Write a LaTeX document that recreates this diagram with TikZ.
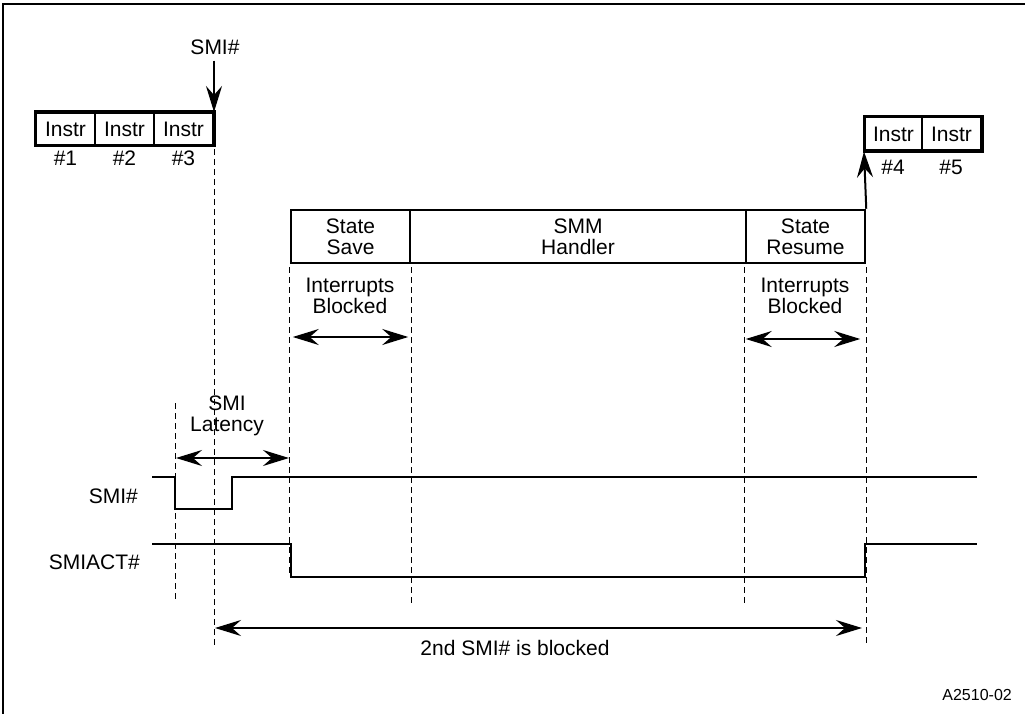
\documentclass[tikz,border=0pt]{standalone}
\usepackage{fontspec}
\setmainfont{Liberation Sans}
\usetikzlibrary{arrows.meta,calc}
\begin{document}
\begin{tikzpicture}[x=1pt,y=-1pt,
  lbl/.style={font=\fontsize{21}{21}\selectfont, inner sep=0pt, align=center},
  cell/.style={draw, line width=2pt, inner sep=0pt, font=\fontsize{21}{21}\selectfont},
  big/.style={draw, line width=2.5pt, minimum height=53pt, inner sep=0pt, align=center, font=\fontsize{21}{21}\selectfont},
  dsh/.style={dash pattern=on 6pt off 4pt, line width=0.9pt},
  wave/.style={line width=2.4pt, line join=miter},
  arr/.style={-{Stealth[length=26pt,width=16pt,inset=9pt]}, line width=2pt},
  darr/.style={{Stealth[length=26pt,width=16pt,inset=9pt]}-{Stealth[length=26pt,width=16pt,inset=9pt]}, line width=2pt}]
\useasboundingbox (0,0) rectangle (1025,714);
\fill[white] (0,0) rectangle (1025,714);
\draw[line width=2pt] (1025,4) -- (3,4) -- (3,714);

% left instructions
\node[cell, minimum width=59pt, minimum height=32pt] (i1) at (65.5,129) {Instr};
\node[cell, minimum width=59pt, minimum height=32pt] (i2) at (124.5,129) {Instr};
\node[cell, minimum width=59pt, minimum height=32pt] (i3) at (183.5,129) {Instr};
\draw[line width=3pt] (i1.north west) rectangle (i3.south east);
\node[lbl] (n1) at (65.5,158) {\#1};
\node[lbl] (n2) at (124.5,158) {\#2};
\node[lbl] (n3) at (183.5,158) {\#3};

% SMI# trigger
\node[lbl] (smitop) at (215,47) {SMI\#};
\draw[arr] ($(i3.north east |- smitop.south)+(0,6)$) -- (i3.north east);

% right instructions
\node[cell, minimum width=57pt, minimum height=33pt] (i4) at (893.5,134) {Instr};
\node[cell, minimum width=59pt, minimum height=33pt] (i5) at (951.5,134) {Instr};
\draw[line width=3pt] (i4.north west) rectangle (i5.south east);
\node[lbl] (n4) at (893,167) {\#4};
\node[lbl] (n5) at (951,167) {\#5};

% SMM box
\node[big, minimum width=119pt] (ss) at (350.5,236.5) {State\\Save};
\node[big, minimum width=336pt] (smm) at (578,236.5) {SMM\\Handler};
\node[big, minimum width=119pt] (sr) at (805.5,236.5) {State\\Resume};
\draw[arr] (sr.north east) -- (i4.south west);

% dashed markers
\draw[dsh] ($(i3.south east)+(0,3)$) -- (i3.south east |- 0,646);
\draw[dsh] (175,403) -- (175,600);
\draw[dsh] ($(ss.south west)+(0,3)$) -- (ss.south west |- 0,577);
\draw[dsh] ($(ss.south east)+(0,3)$) -- (ss.south east |- 0,605);
\draw[dsh] ($(sr.south west)+(0,3)$) -- (sr.south west |- 0,605);
\draw[dsh] ($(sr.south east)+(0,3)$) -- (sr.south east |- 0,645);

% interrupts blocked
\node[lbl] (ib1) at (350,296) {Interrupts\\Blocked};
\node[lbl] (ib2) at (805,296) {Interrupts\\Blocked};
\draw[darr] ($(ss.south west |- 0,337)+(3,0)$) -- ($(ss.south east |- 0,337)+(-3,0)$);
\draw[darr] ($(sr.south west |- 0,339)+(1,0)$) -- ($(sr.south east |- 0,339)+(-6,0)$);

% SMI latency
\node[lbl] (lat) at (227,416) {SMI\\Latency};
\coordinate (la) at (176,458);
\coordinate (lb) at (289,458);
\draw[darr] (la) -- (lb);

% waveforms
\node[lbl, anchor=east] (lsmi) at (138,496) {SMI\#};
\node[lbl, anchor=east] (lact) at (140,562) {SMIACT\#};
\coordinate (s0) at (152,477);
\coordinate (s1) at (175,477);
\coordinate (s2) at (175,509);
\coordinate (s3) at (232,509);
\coordinate (s4) at (232,477);
\coordinate (s5) at (977,477);
\draw[wave] (s0) -- (s1) -- (s2) -- (s3) -- (s4) -- (s5);
\coordinate (a0) at (152,544);
\coordinate (a1) at (291,544);
\coordinate (a2) at (291,577);
\coordinate (a3) at (865,577);
\coordinate (a4) at (865,544);
\coordinate (a5) at (977,544);
\draw[wave] (a0) -- (a1) -- (a2) -- (a3) -- (a4) -- (a5);

% blocked
\coordinate (ba) at (215,628);
\coordinate (bb) at (862,628);
\draw[darr] (ba) -- (bb);
\node[lbl] (blk) at (515,648) {2nd SMI\# is blocked};

\node[font=\fontsize{16}{16}\selectfont, inner sep=0pt, anchor=east] (fig) at (1012,695) {A2510-02};
\end{tikzpicture}
\end{document}
